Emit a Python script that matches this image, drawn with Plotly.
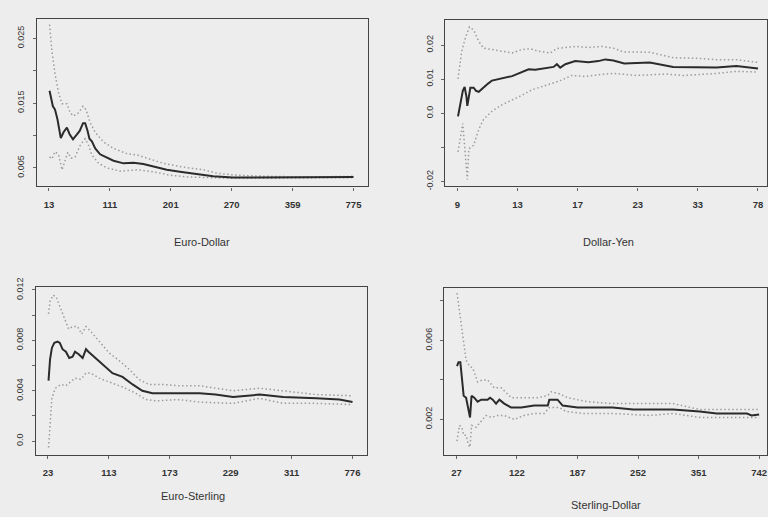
import plotly.graph_objects as go

# ---------------- data (x = position along the ordered-index axis, 0..100) --------------
# Euro-Dollar
ed_est_x = [0.2, 1.3, 2.0, 2.8, 3.9, 4.8, 5.9, 6.8, 7.9, 9.0, 10.1, 11.2, 11.9, 12.7, 13.3, 14.1, 15.2, 16.8, 18.5, 21.2, 24.5, 27.8, 31.0, 34.3, 38.7, 43.0, 48.5, 53.9, 60.3, 70, 80, 90, 100]
ed_est_y = [0.0169, 0.0145, 0.0140, 0.0125, 0.0096, 0.0105, 0.0112, 0.0102, 0.0094, 0.0100, 0.0107, 0.0119, 0.0119, 0.0107, 0.0095, 0.0091, 0.0080, 0.0071, 0.0067, 0.0061, 0.0057, 0.0058, 0.0056, 0.0052, 0.0047, 0.0044, 0.0041, 0.0037, 0.0035, 0.0035, 0.0035, 0.0035, 0.0036]
ed_up_x = [0.2, 1.0, 2.0, 3.2, 4.3, 5.9, 7.0, 8.1, 9.7, 11.2, 12.2, 13.5, 15.2, 17.9, 21.2, 25.6, 28.9, 32.1, 37.6, 43.0, 50.7, 55, 60.3, 71.3, 85, 100]
ed_up_y = [0.0271, 0.0230, 0.0195, 0.0165, 0.0149, 0.0149, 0.0135, 0.0130, 0.0135, 0.0145, 0.0140, 0.0120, 0.0105, 0.0090, 0.0080, 0.0072, 0.0070, 0.0065, 0.0057, 0.0052, 0.0047, 0.0042, 0.0039, 0.0037, 0.0036, 0.0037]
ed_lo_x = [0.2, 1.0, 2.0, 3.2, 4.3, 5.3, 6.2, 7.3, 8.6, 10.3, 11.9, 13.0, 14.1, 16.3, 19.0, 23.4, 28.9, 34.3, 39.4, 45.2, 51.8, 60, 70, 85, 100]
ed_lo_y = [0.0067, 0.0064, 0.0075, 0.0070, 0.0047, 0.0063, 0.0074, 0.0065, 0.0067, 0.0085, 0.0095, 0.0085, 0.0070, 0.0057, 0.0050, 0.0045, 0.0047, 0.0044, 0.0039, 0.0036, 0.0035, 0.0034, 0.0034, 0.0034, 0.0035]
ed_ticks = ["13", "111", "201", "270", "359", "775"]

# Dollar-Yen
dy_est_x = [0.2, 1.0, 1.8, 2.4, 3.0, 3.3, 3.8, 4.3, 5.4, 6.2, 7.1, 8.2, 9.3, 10.2, 11.5, 13.7, 15.9, 18.2, 19.8, 21.5, 23.7, 25.9, 29.2, 32.0, 33.1, 34.2, 35.9, 39.2, 43.6, 46.9, 49.2, 51.9, 55.5, 64.0, 71.8, 80.6, 86.2, 92.8, 97.2, 100]
dy_est_y = [-0.0009, 0.0029, 0.0066, 0.0077, 0.0049, 0.0022, 0.0049, 0.0075, 0.0075, 0.0066, 0.0063, 0.0072, 0.0082, 0.0087, 0.0096, 0.0101, 0.0104, 0.0109, 0.0115, 0.0122, 0.0129, 0.0128, 0.0132, 0.0136, 0.0144, 0.0134, 0.0144, 0.0153, 0.0150, 0.0153, 0.0158, 0.0155, 0.0146, 0.0149, 0.0136, 0.0136, 0.0134, 0.0139, 0.0134, 0.0131]
dy_up_x = [0.2, 1.4, 2.6, 4.0, 5.4, 7.1, 8.7, 11.5, 14.8, 18.2, 21.5, 24.3, 27.0, 30.9, 33.1, 35.9, 39.2, 43.6, 48.1, 51.9, 55.1, 64.0, 71.8, 80.6, 86.2, 92.8, 100]
dy_up_y = [0.0101, 0.0180, 0.0220, 0.0253, 0.0244, 0.0211, 0.0191, 0.0187, 0.0182, 0.0177, 0.0187, 0.0189, 0.0182, 0.0177, 0.0190, 0.0193, 0.0196, 0.0193, 0.0196, 0.0191, 0.0180, 0.0179, 0.0163, 0.0161, 0.0157, 0.0157, 0.0149]
dy_lo_x = [0.2, 1.8, 3.3, 3.8, 5.4, 7.1, 8.7, 11.5, 14.8, 18.2, 21.5, 24.8, 29.2, 33.7, 38.1, 42.5, 46.9, 51.9, 59.6, 69.5, 75.1, 86.2, 92.8, 100]
dy_lo_y = [-0.0113, -0.0030, -0.0194, -0.0104, -0.0094, -0.0047, -0.0018, 0.0006, 0.0025, 0.0039, 0.0053, 0.0069, 0.0082, 0.0094, 0.0111, 0.0108, 0.0113, 0.0117, 0.0111, 0.0115, 0.0111, 0.0117, 0.0123, 0.0121]
dy_ticks = ["9", "13", "17", "23", "33", "78"]

# Euro-Sterling
es_est_x = [0.2, 0.7, 1.3, 2.1, 3.2, 3.9, 4.8, 5.9, 7.0, 8.1, 8.9, 10.1, 11.4, 12.5, 13.3, 15.2, 17.9, 21.2, 24.5, 27.8, 31.0, 34.3, 39.8, 45.2, 49.8, 55, 60.8, 69.5, 77.2, 88.1, 95.7, 100]
es_est_y = [0.0048, 0.0065, 0.0074, 0.0078, 0.0079, 0.0078, 0.0073, 0.0071, 0.0066, 0.0067, 0.0071, 0.0069, 0.0066, 0.0073, 0.0071, 0.0067, 0.0061, 0.0054, 0.0051, 0.0045, 0.0040, 0.0038, 0.0038, 0.0038, 0.0038, 0.0037, 0.0035, 0.0037, 0.0035, 0.0034, 0.0033, 0.0031]
es_up_x = [0.2, 0.7, 1.7, 2.8, 3.9, 5.3, 6.8, 8.1, 9.7, 11.1, 12.5, 14.1, 16.8, 20.1, 23.4, 26.7, 29.9, 33.2, 37.6, 43.0, 49.8, 60.8, 69.5, 77.2, 88.1, 100]
es_up_y = [0.0101, 0.0111, 0.0116, 0.0114, 0.0107, 0.0098, 0.0089, 0.0091, 0.0091, 0.0085, 0.0091, 0.0087, 0.0079, 0.0070, 0.0064, 0.0057, 0.0049, 0.0045, 0.0045, 0.0044, 0.0044, 0.0040, 0.0042, 0.0040, 0.0037, 0.0036]
es_lo_x = [0.2, 0.7, 1.3, 2.4, 4.3, 5.9, 7.5, 8.9, 10.8, 12.5, 14.1, 16.8, 20.1, 24.5, 28.9, 32.1, 35.4, 43.0, 49.8, 60.8, 69.5, 77.2, 88.1, 100]
es_lo_y = [-0.0005, 0.0016, 0.0034, 0.0042, 0.0045, 0.0044, 0.0047, 0.0050, 0.0049, 0.0054, 0.0054, 0.0050, 0.0047, 0.0043, 0.0038, 0.0033, 0.0032, 0.0033, 0.0031, 0.0030, 0.0034, 0.0030, 0.0030, 0.0029]
es_ticks = ["23", "113", "173", "229", "311", "776"]

# Sterling-Dollar
sd_est_x = [0.2, 0.7, 1.3, 1.8, 2.4, 3.2, 4.0, 4.5, 5.0, 5.9, 7.0, 8.2, 9.2, 10.3, 11.1, 12.0, 13.1, 14.2, 15.8, 18.1, 21.4, 25.7, 29.0, 30.2, 30.7, 33.4, 35.1, 40.0, 45.5, 51.6, 58.4, 71.6, 80.4, 86.0, 96.0, 97.5, 100]
sd_est_y = [0.0047, 0.0049, 0.0049, 0.0040, 0.0032, 0.0031, 0.0025, 0.0021, 0.0032, 0.0031, 0.0029, 0.0030, 0.0030, 0.0030, 0.0031, 0.0030, 0.0028, 0.0030, 0.0028, 0.0026, 0.0026, 0.0027, 0.0027, 0.0027, 0.0030, 0.0030, 0.0027, 0.0026, 0.0026, 0.0026, 0.0025, 0.0025, 0.0024, 0.0023, 0.0023, 0.0022, 0.00225]
sd_up_x = [0.2, 1.0, 2.1, 3.2, 4.3, 5.4, 7.0, 8.7, 10.3, 12.5, 14.8, 18.1, 22.4, 26.8, 30.1, 31.3, 34.0, 36.7, 43.3, 51.6, 63.9, 71.6, 80.4, 91.4, 100]
sd_up_y = [0.0084, 0.0075, 0.0062, 0.0050, 0.0047, 0.0046, 0.0039, 0.0040, 0.0040, 0.0036, 0.0036, 0.0031, 0.0031, 0.0031, 0.0032, 0.0034, 0.0033, 0.0031, 0.0029, 0.0028, 0.0028, 0.0028, 0.0025, 0.0025, 0.0025]
sd_lo_x = [0.2, 1.0, 1.8, 2.4, 3.2, 4.0, 4.5, 5.0, 6.5, 8.2, 9.8, 11.5, 13.6, 15.8, 19.1, 22.4, 25.7, 29.0, 30.7, 34.0, 36.2, 42.2, 51.6, 63.9, 71.6, 80.4, 91.4, 100]
sd_lo_y = [0.0009, 0.0017, 0.0016, 0.0012, 0.0012, 0.0007, 0.0006, 0.0017, 0.0016, 0.0019, 0.0022, 0.0021, 0.0022, 0.0022, 0.0020, 0.0022, 0.0023, 0.0023, 0.0026, 0.0026, 0.0024, 0.0023, 0.0023, 0.0022, 0.0023, 0.0021, 0.0021, 0.0021]
sd_ticks = ["27", "122", "187", "252", "351", "742"]

tick_pos = [0, 20, 40, 60, 80, 100]

W, H = 768, 517
BG = "#ededed"
FONT = "Liberation Sans, Arial, sans-serif"
EST = dict(color="#2b2b2b", width=2)
CI = dict(color="#9c9c9c", width=1.5, dash="1.5px,2.5px")

panels = [
    # name, est, up, lo, xticks, box (left,right,top,bottom px), xrange, yrange, yticks, ylabels, title (x,y px)
    ("Euro-Dollar", (ed_est_x, ed_est_y), (ed_up_x, ed_up_y), (ed_lo_x, ed_lo_y), ed_ticks,
     (37, 368, 10, 182), [-3.93, 104.6], [0.00214, 0.02801],
     [0.005, 0.010, 0.015, 0.020, 0.025], ["0.005", "", "0.015", "", "0.025"], (202, 239)),
    ("Dollar-Yen", (dy_est_x, dy_est_y), (dy_up_x, dy_up_y), (dy_lo_x, dy_lo_y), dy_ticks,
     (446, 768, 11, 182), [-3.99, 103.0], [-0.02143, 0.02743],
     [-0.02, -0.01, 0.0, 0.01, 0.02], ["-0.02", "", "0.0", "0.01", "0.02"], (609, 239)),
    ("Euro-Sterling", (es_est_x, es_est_y), (es_up_x, es_up_y), (es_lo_x, es_lo_y), es_ticks,
     (36, 367, 285, 457), [-3.93, 104.6], [-0.00106, 0.01225],
     [0.0, 0.002, 0.004, 0.006, 0.008, 0.010, 0.012], ["0.0", "", "0.004", "", "0.008", "", "0.012"], (193, 500)),
    ("Sterling-Dollar", (sd_est_x, sd_est_y), (sd_up_x, sd_up_y), (sd_lo_x, sd_lo_y), sd_ticks,
     (445, 768, 286, 457), [-3.96, 102.6], [0.000222, 0.008667],
     [0.002, 0.004, 0.006, 0.008], ["0.002", "", "0.006", ""], (607, 509)),
]

fig = go.Figure()
annotations = []
layout_axes = {}
for i, (name, est, up, lo, xt, box, xr, yr, ytv, ytt, tpos) in enumerate(panels, start=1):
    xa = "x" if i == 1 else f"x{i}"
    ya = "y" if i == 1 else f"y{i}"
    for (xs, ys), style in ((up, CI), (lo, CI), (est, EST)):
        fig.add_trace(go.Scatter(x=xs, y=ys, mode="lines", line=style,
                                 xaxis=xa, yaxis=ya, showlegend=False, hoverinfo="skip"))
    l, r, t, b = box
    axkey_x = "xaxis" if i == 1 else f"xaxis{i}"
    axkey_y = "yaxis" if i == 1 else f"yaxis{i}"
    layout_axes[axkey_x] = dict(
        domain=[l / W, min(r / W, 1.0)], range=xr, anchor=ya,
        tickmode="array", tickvals=tick_pos, ticktext=xt,
        ticks="outside", ticklen=3, tickcolor="#666", tickwidth=1,
        showline=True, linecolor="#444", linewidth=1.3, mirror=True,
        showgrid=False, zeroline=False, fixedrange=True,
        tickfont=dict(family=FONT, size=9.5, color="#333", weight="bold"),
        ticklabelstandoff=6, ticklabeloverflow="allow",
    )
    layout_axes[axkey_y] = dict(
        domain=[1 - b / H, 1 - t / H], range=yr, anchor=xa,
        tickmode="array", tickvals=ytv, ticktext=ytt, tickangle=-90,
        ticks="outside", ticklen=3, tickcolor="#666", tickwidth=1,
        showline=True, linecolor="#444", linewidth=1.3, mirror=True,
        showgrid=False, zeroline=False, fixedrange=True,
        tickfont=dict(family=FONT, size=9, color="#333"),
        ticklabelstandoff=5, ticklabeloverflow="allow",
    )
    annotations.append(dict(text=name, x=tpos[0] / W, y=1 - tpos[1] / H, xref="paper", yref="paper",
                            xanchor="center", yanchor="middle", showarrow=False,
                            font=dict(family=FONT, size=11, color="#333")))

fig.update_layout(
    width=W, height=H, margin=dict(l=0, r=0, t=0, b=0),
    paper_bgcolor=BG, plot_bgcolor=BG, annotations=annotations, **layout_axes,
)
fig.write_html("out.html", config={"displayModeBar": False},
               post_script="document.body.style.margin='0';document.body.style.background='#ededed';")
